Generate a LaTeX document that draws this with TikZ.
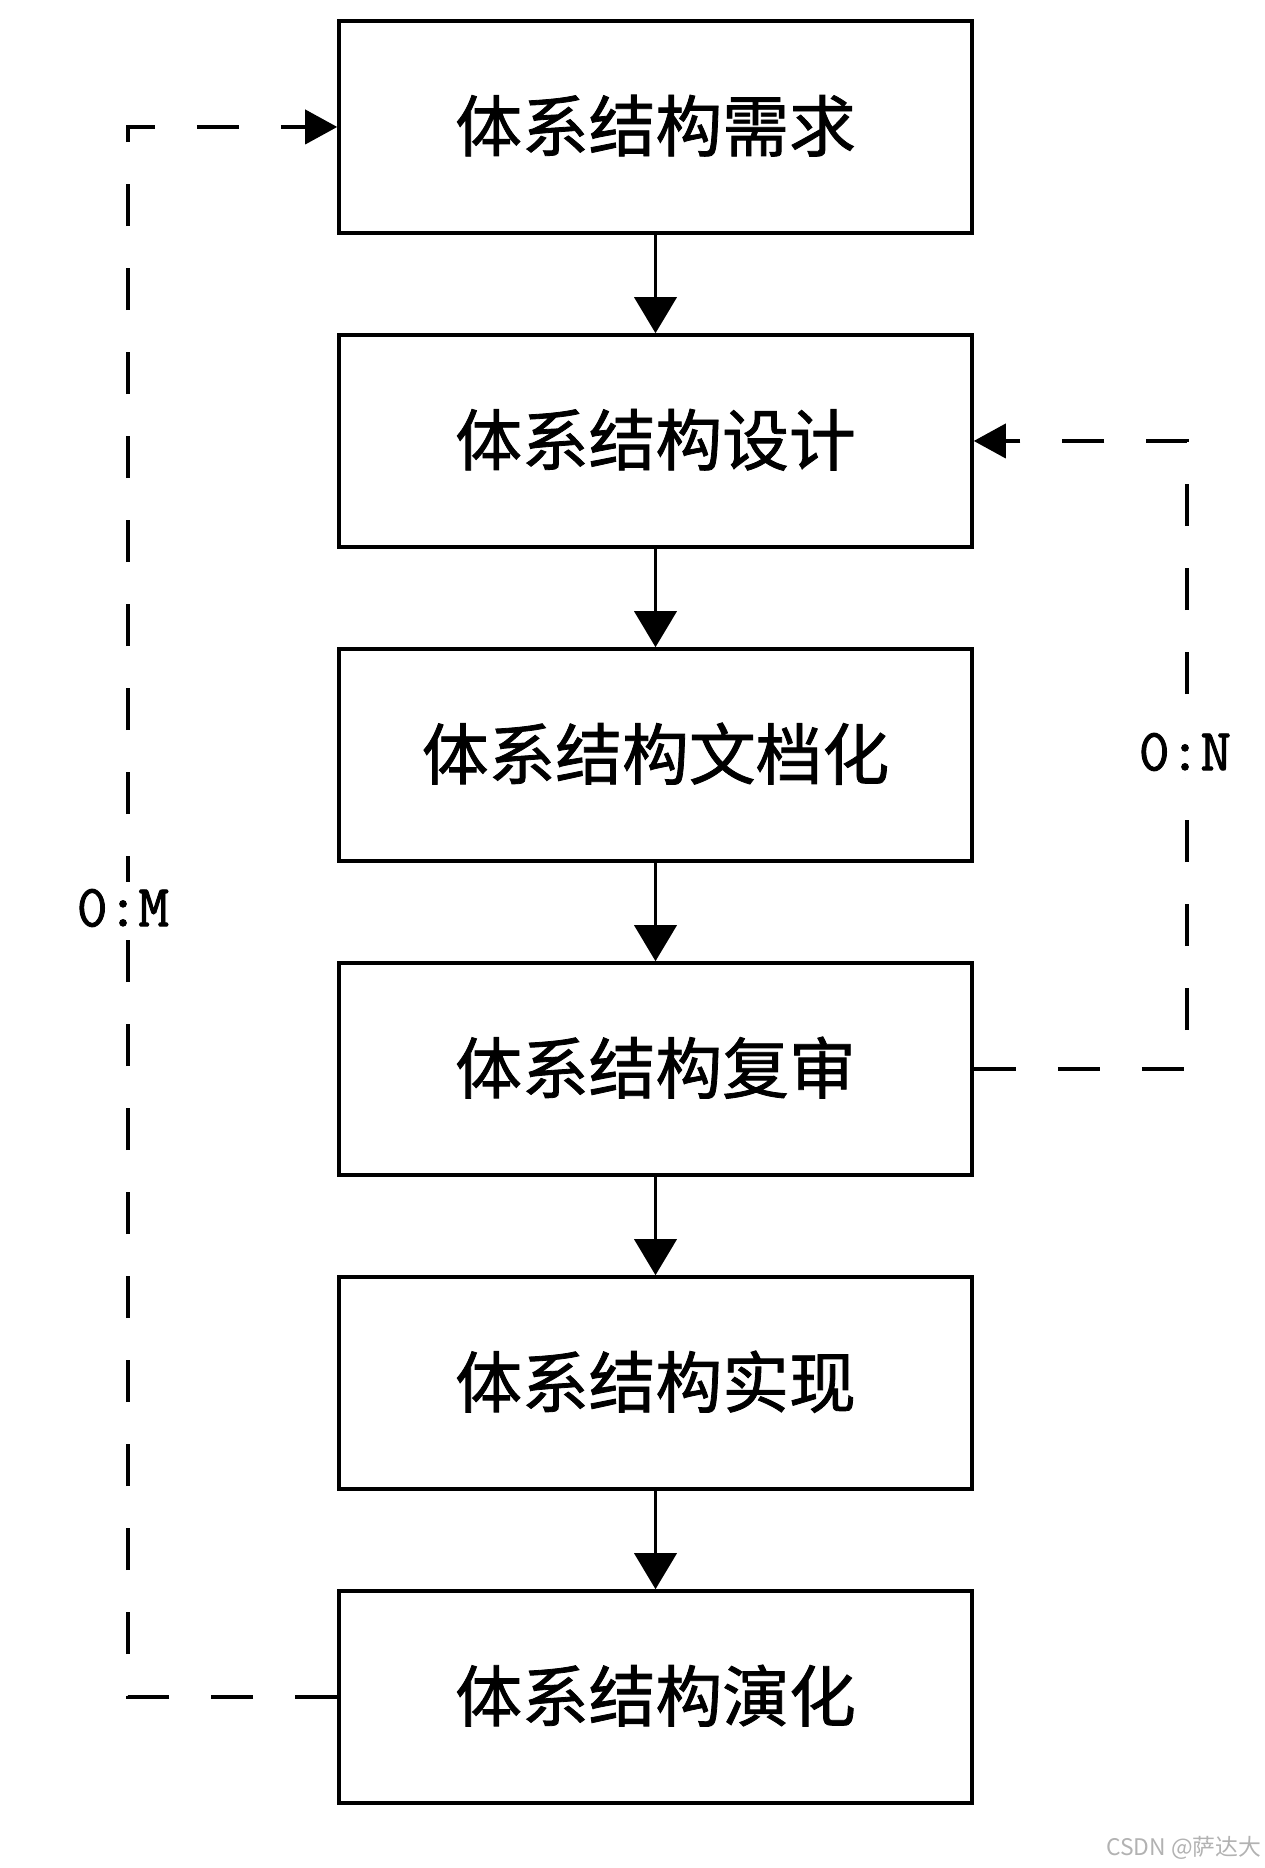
\documentclass[tikz,border=0pt]{standalone}
\usepackage{fontspec}
\setmainfont{Noto Sans CJK SC}
\newfontfamily\stagefont{Noto Sans CJK SC}[FakeBold=1.2]
\newfontfamily\labelfont{Latin Modern Mono}[FakeBold=1.5]
\usetikzlibrary{arrows.meta}

\tikzset{
  stagebox/.style={draw, line width=1pt, minimum width=6.33cm, minimum height=2.12cm,
    inner sep=0pt, font=\stagefont\fontsize{19}{22}\selectfont},
  flow/.style={line width=1.1pt, -{Triangle[width=0.42cm,length=0.36cm]}},
  loopback/.style={line width=1.1pt, dash pattern=on 0.42cm off 0.42cm,
    -{Triangle[width=0.34cm,length=0.32cm]}},
  ratio/.style={fill=white, inner sep=2pt, font=\labelfont\fontsize{17}{19}\selectfont}
}

\begin{document}
\begin{tikzpicture}
  \useasboundingbox (0,0) rectangle (12.64,18.68);

  % Stages of the architecture process
  \node[stagebox] (req)  at (6.555,17.41) {\raisebox{0.08cm}{体系结构需求}};
  \node[stagebox] (des)  at (6.555,14.27) {\raisebox{0.08cm}{体系结构设计}};
  \node[stagebox] (doc)  at (6.555,11.13) {\raisebox{0.08cm}{体系结构文档化}};
  \node[stagebox] (rev)  at (6.555,7.99)  {\raisebox{0.08cm}{体系结构复审}};
  \node[stagebox] (impl) at (6.555,4.85)  {\raisebox{0.08cm}{体系结构实现}};
  \node[stagebox] (evo)  at (6.555,1.71)  {\raisebox{0.08cm}{体系结构演化}};

  % Main flow
  \draw[flow] (req) -- (des);
  \draw[flow] (des) -- (doc);
  \draw[flow] (doc) -- (rev);
  \draw[flow] (rev) -- (impl);
  \draw[flow] (impl) -- (evo);

  % Feedback from evolution back to requirements
  \draw[loopback] (evo.west) -| (1.28,17.41) -- (req.west);
  \node[ratio] (om) at (1.23,9.60) {0:M};

  % Feedback from review back to design
  \draw[loopback] (rev.east) -| (11.87,14.27) -- (des.east);
  \node[ratio] (on) at (11.85,11.16) {0:N};

  % Watermark
  \node[anchor=east, text=gray!60, inner sep=0pt, font=\fontsize{6.5}{8}\selectfont] (mark) at (12.62,0.20) {CSDN @萨达大};
\end{tikzpicture}
\end{document}
